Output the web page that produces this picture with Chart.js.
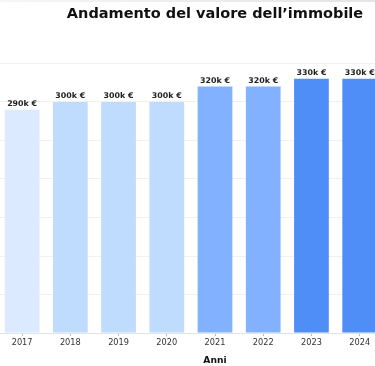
<!DOCTYPE html>
<html lang="it">
<head>
<meta charset="utf-8">
<script src="https://cdn.jsdelivr.net/npm/chart.js@4/dist/chart.umd.min.js"></script>
<style>
  html, body { margin: 0; padding: 0; background: #fff; overflow: hidden; }
  body { width: 375px; height: 366px; position: relative; }
  .topline { position: absolute; left: 0; top: 0; width: 375px; height: 2px; background: linear-gradient(to right, #f6f6f6, #e4e4e4); z-index: 2; }
  .wrap { position: absolute; left: -2px; top: 0; width: 434px; height: 366px; }
</style>
</head>
<body>
<div class="topline"></div>
<div class="wrap"><canvas id="valueChart"></canvas></div>
<script>
// Anni e valori (in migliaia di euro); il 2025 esce dal riquadro
const years = ['2017', '2018', '2019', '2020', '2021', '2022', '2023', '2024', '2025'];
const values = [290, 300, 300, 300, 320, 320, 330, 330, null];
const barColors = ['#dbeafe', '#bfdbfe', '#bfdbfe', '#bfdbfe', '#82b1ff', '#82b1ff', '#4f8ef7', '#4f8ef7', '#4f8ef7'];
const yMax = 350;
const yStep = 50;

const font = 'DejaVu Sans';

// etichette sopra le barre
const valueLabels = {
  id: 'valueLabels',
  afterDatasetsDraw(chart) {
    const ctx = chart.ctx;
    const meta = chart.getDatasetMeta(0);
    ctx.save();
    ctx.font = 'bold 7.9px "' + font + '"';
    ctx.fillStyle = '#222';
    ctx.textAlign = 'center';
    ctx.textBaseline = 'bottom';
    meta.data.forEach((bar, i) => {
      const v = chart.data.datasets[0].data[i];
      if (v == null) return;
      ctx.fillText(v + 'k €', bar.x, bar.y - 2);
    });
    ctx.restore();
  }
};

new Chart(document.getElementById('valueChart'), {
  type: 'bar',
  data: {
    labels: years,
    datasets: [{
      label: 'Valore',
      data: values,
      backgroundColor: barColors,
      borderWidth: 0
    }]
  },
  options: {
    responsive: true,
    maintainAspectRatio: false,
    animation: false,
    layout: { padding: 0 },
    plugins: {
      legend: { display: false },
      tooltip: { enabled: false },
      title: {
        display: true,
        text: 'Andamento del valore dell’immobile',
        color: '#111',
        font: { family: font, size: 14.5, weight: 'bold' },
        padding: { top: 6, bottom: 40 }
      }
    },
    scales: {
      x: {
        grid: { drawOnChartArea: false, offset: false, tickLength: 3, color: '#bbb' },
        border: { color: '#dde3ea' },
        ticks: { color: '#333', padding: 2, font: { family: font, size: 8.2 } },
        title: {
          display: true,
          text: 'Anni',
          color: '#111',
          font: { family: font, size: 9.2, weight: 'bold' },
          padding: { top: 5, bottom: 0 }
        }
      },
      y: {
        beginAtZero: true,
        max: yMax,
        ticks: { display: false, stepSize: yStep },
        grid: { color: '#f0f0f0', drawTicks: false },
        border: { display: false }
      }
    }
  },
  plugins: [valueLabels]
});
</script>
</body>
</html>
